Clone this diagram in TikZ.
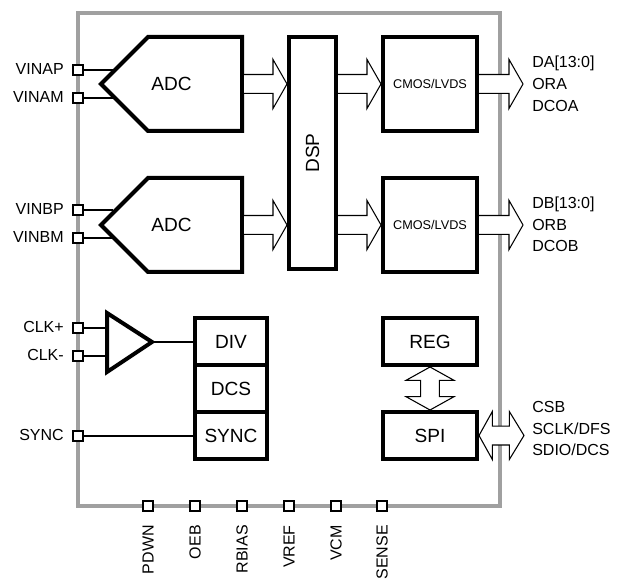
\documentclass[tikz,border=0pt]{standalone}
\usepackage{fontspec}
\usepackage{graphicx}
\setmainfont{Liberation Sans}
\usetikzlibrary{calc}
\definecolor{chipgray}{HTML}{A0A0A0}
\tikzset{
  x=0.75pt,y=-0.75pt,
  blk/.style 2 args={draw=black,line width=3pt,fill=white,inner sep=0pt,minimum width=#1*0.75pt,minimum height=#2*0.75pt,font=\fontsize{14.3}{16}\selectfont},
  adcframe/.style={blk={141}{94},draw=none,fill=none},
  pin/.style={draw=black,line width=1.5pt,fill=white,inner sep=0pt,minimum size=7pt},
  lab/.style={inner sep=0pt,font=\fontsize{12}{14}\selectfont},
  wire/.style={draw=black,line width=1.3pt},
  bus/.style={draw=black,line width=0.8pt,fill=white,line join=miter},
  cmos/.style={font=\fontsize{9.5}{11}\selectfont}
}
\newcommand\busarrow[2]{\draw[bus] let \p1=(#1),\p2=(#2) in
  (\x1,\y1+7.1pt) -- (\x2-10.5pt,\y1+7.1pt) -- (\x2-10.5pt,\y1+18.4pt) -- (\x2,\y1)
  -- (\x2-10.5pt,\y1-18.4pt) -- (\x2-10.5pt,\y1-7.1pt) -- (\x1,\y1-7.1pt);}
\begin{document}
\begin{tikzpicture}
\useasboundingbox (0,0) rectangle (623,580);
\draw[chipgray,line width=3pt] (78,13.5) rectangle (500,506);
% blocks
\node[blk={47}{232}] (dsp) at (312.5,153) {\rotatebox{90}{DSP}};
\node[blk={94}{94},cmos] (cmosa) at (430,84) {CMOS/LVDS};
\node[blk={94}{94},cmos] (cmosb) at (430,225) {CMOS/LVDS};
\node[blk={72}{47}] (div) at (231,341.5) {DIV};
\node[blk={72}{47}] (dcs) at (231,388.5) {DCS};
\node[blk={72}{47}] (syncb) at (231,435.5) {SYNC};
\node[blk={94}{47}] (reg) at (430,341.5) {REG};
\node[blk={94}{47}] (spi) at (430,435.5) {SPI};
% pins
\node[pin] (vinap) at (78,70) {};
\node[pin] (vinam) at (78,98) {};
\node[pin] (vinbp) at (78,210) {};
\node[pin] (vinbm) at (78,238) {};
\node[pin] (clkp) at (78,328) {};
\node[pin] (clkm) at (78,356) {};
\node[pin] (sync) at (78,436) {};
\node[pin] (pdwn) at (148,506) {};
\node[pin] (oeb) at (195,506) {};
\node[pin] (rbias) at (242,506) {};
\node[pin] (vref) at (289,506) {};
\node[pin] (vcm) at (336,506) {};
\node[pin] (sense) at (382,506) {};
% ADC frames carry the text; their outline is the pentagon below
\node[adcframe] (adca) at (171.5,84) {ADC};
\node[adcframe] (adcb) at (171.5,225) {ADC};
% wires, drawn up to the slanted inputs
\coordinate (ainA) at ($(adca.west)+(14,0)$);
\coordinate (ainB) at ($(adcb.west)+(14,0)$);
\draw[wire] (vinap.east) -- (vinap -| ainA);
\draw[wire] (vinam.east) -- (vinam -| ainA);
\draw[wire] (vinbp.east) -- (vinbp -| ainB);
\draw[wire] (vinbm.east) -- (vinbm -| ainB);
% ADC outlines
\foreach \n in {adca,adcb}{
  \draw[black,line width=3pt,line join=miter] ($(\n.north east)+(-1.5pt,-1.5pt)$) -- ($(\n.south east)+(-1.5pt,1.5pt)$)
    -- ($(\n.south west)+(47,0)+(1.5pt,1.5pt)$) -- ($(\n.west)+(1.5pt,0)$) -- ($(\n.north west)+(47,0)+(1.5pt,-1.5pt)$) -- cycle;
}
% clock amplifier
\coordinate (ampt) at (107,313);
\coordinate (ampb) at (107,372);
\coordinate (ampo) at (152,342);
\draw[wire] (clkp.east) -- (clkp -| ampt);
\draw[wire] (clkm.east) -- (clkm -| ampt);
\draw[black,line width=3pt,fill=white,line join=miter] (ampt) -- (ampo) -- (ampb) -- cycle;
\draw[wire] (ampo) -- (ampo -| div.west);
\draw[wire] (sync.east) -- (sync -| syncb.west);
% busses
\coordinate (daout) at (523,84);
\coordinate (dbout) at (523,225);
\busarrow{adca.east}{dsp.west |- adca.east}
\busarrow{adcb.east}{dsp.west |- adcb.east}
\busarrow{dsp.east |- cmosa.west}{cmosa.west}
\busarrow{dsp.east |- cmosb.west}{cmosb.west}
\busarrow{cmosa.east}{daout}
\busarrow{cmosb.east}{dbout}
% SPI to pins, double headed
\coordinate (spiout) at (524,436);
\draw[bus] let \p1=(spi.east),\p2=(spiout) in
  (\x1,\y1) -- (\x1+10pt,\y1+18pt) -- (\x1+10pt,\y1+7.1pt) -- (\x2-11pt,\y1+7.1pt) -- (\x2-11pt,\y1+18pt)
  -- (\x2,\y1) -- (\x2-11pt,\y1-18pt) -- (\x2-11pt,\y1-7.1pt) -- (\x1+10pt,\y1-7.1pt) -- (\x1+10pt,\y1-18pt) -- cycle;
% REG to SPI, double headed
\draw[bus] let \p1=(reg.south),\p2=(spi.north) in
  (\x1,\y1) -- (\x1+18pt,\y1-10pt) -- (\x1+7pt,\y1-10pt) -- (\x1+7pt,\y2+10pt) -- (\x1+18pt,\y2+10pt)
  -- (\x2,\y2) -- (\x1-18pt,\y2+10pt) -- (\x1-7pt,\y2+10pt) -- (\x1-7pt,\y1-10pt) -- (\x1-18pt,\y1-10pt) -- cycle;
% labels
\foreach \p/\t in {vinap/VINAP,vinam/VINAM,vinbp/VINBP,vinbm/VINBM,clkp/CLK+,clkm/CLK-,sync/SYNC}{
  \node[lab,anchor=east] (l\p) at ($(\p)+(-14,-1)$) {\t};
}
\foreach \p/\t in {pdwn/PDWN,oeb/OEB,rbias/RBIAS,vref/VREF,vcm/VCM,sense/SENSE}{
  \node[lab,anchor=east,rotate=90] (l\p) at ($(\p)+(0,19)$) {\t};
}
\node[lab,anchor=west] (tda) at (532,63) {DA[13:0]};
\node[lab,anchor=west] (tora) at (532,84) {ORA};
\node[lab,anchor=west] (tdcoa) at (532,106) {DCOA};
\node[lab,anchor=west] (tdb) at (532,204) {DB[13:0]};
\node[lab,anchor=west] (torb) at (532,225) {ORB};
\node[lab,anchor=west] (tdcob) at (532,246) {DCOB};
\node[lab,anchor=west] (tcsb) at (532,407) {CSB};
\node[lab,anchor=west] (tsclk) at (532,429) {SCLK/DFS};
\node[lab,anchor=west] (tsdio) at (532,450) {SDIO/DCS};
\end{tikzpicture}
\end{document}
